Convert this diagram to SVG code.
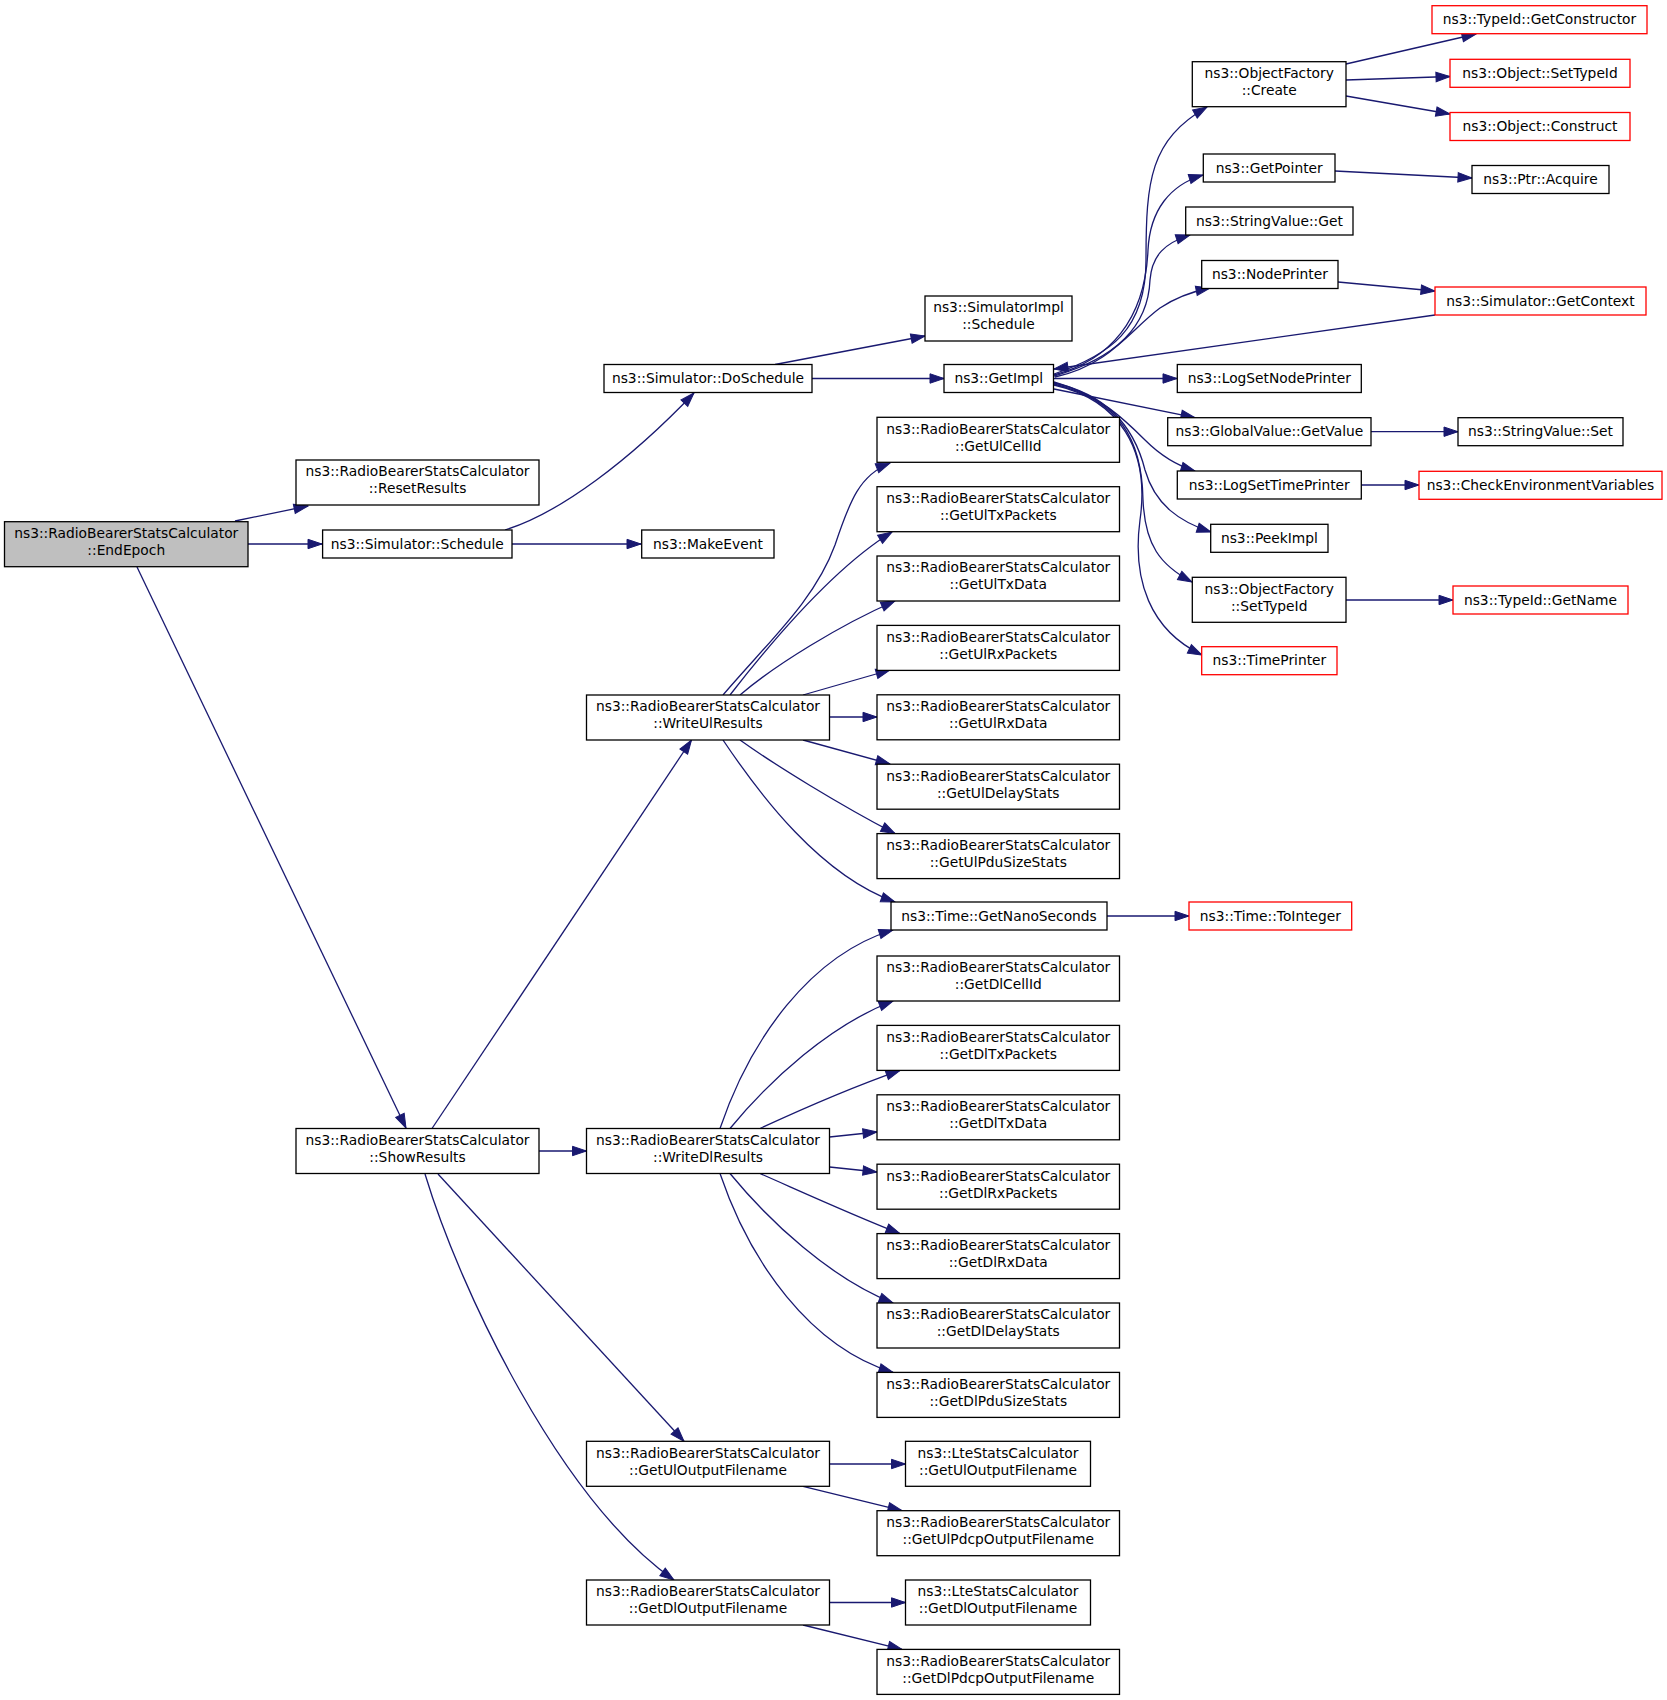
<svg xmlns="http://www.w3.org/2000/svg" width="1667" height="1700" viewBox="0 0 1667 1700">
<style>
.n rect{fill:#fff;stroke:#000;stroke-width:1.3}
.r rect{stroke:#ff0000}
.g rect{fill:#bfbfbf}
text{font-family:"DejaVu Sans","Liberation Sans",sans-serif;font-size:13.8px;text-anchor:middle;fill:#000}
.e path{fill:none;stroke:#191970;stroke-width:1.3;marker-end:url(#a)}
</style>
<defs>
<marker id="a" markerWidth="16" markerHeight="12" refX="14" refY="5" orient="auto" markerUnits="userSpaceOnUse" overflow="visible">
<path d="M0,0.3 L14,5 L0,9.7 z" fill="#191970" stroke="#191970" stroke-width="1"/>
</marker>
</defs>
<rect x="0" y="0" width="1667" height="1700" fill="#fff"/>
<g id="edges" class="e">
<path d="M235,521 L308,506"/>
<path d="M248,544 L322,544"/>
<path d="M137,567 L406,1128"/>
<path d="M512,544 L641,544"/>
<path d="M505,530 C560,513 630,460 694,393"/>
<path d="M812,378.5 L944,378.5"/>
<path d="M775,364.5 L925,336"/>
<path d="M1054,374 C1110,355 1146,330 1146,260 C1146,180 1150,140 1207,107"/>
<path d="M1054,375 C1110,360 1145,320 1148,250 C1150,210 1170,185 1203,175"/>
<path d="M1054,376 C1110,360 1148,330 1150,280 C1152,255 1165,243 1190,235"/>
<path d="M1055,377 C1110,365 1130,330 1160,308 C1175,298 1190,292 1210,288"/>
<path d="M1053.5,378.5 L1177,378.5"/>
<path d="M1435,315 L1054,369"/>
<path d="M1054,389 L1195,417.7"/>
<path d="M1054,382 C1100,395 1125,420 1145,440 C1160,455 1175,465 1195,471"/>
<path d="M1054,383 C1110,395 1135,430 1145,470 C1155,505 1180,522 1211,532"/>
<path d="M1054,384 C1120,400 1142,440 1143,500 C1145,545 1160,565 1192,582"/>
<path d="M1054,385 C1120,400 1150,450 1140,520 C1132,580 1150,630 1202,655"/>
<path d="M1346,64 L1476,34"/>
<path d="M1346,80 L1450,76.5"/>
<path d="M1346,96 L1450,114"/>
<path d="M1335,171 L1472,178"/>
<path d="M1338,282 L1435,291"/>
<path d="M1371,431.7 L1458,431.7"/>
<path d="M1361,485 L1419,485"/>
<path d="M1346,600 L1453,600"/>
<path d="M1107,916 L1189,916"/>
<path d="M723,695 C770,640 815,600 835,545 C850,500 860,475 890,463"/>
<path d="M730,695 C765,650 830,570 892,532"/>
<path d="M740,695 C775,665 840,625 895,601"/>
<path d="M803,695 L890,670"/>
<path d="M829.5,717 L877,717"/>
<path d="M803,740 L890,764"/>
<path d="M740,740 C775,765 840,805 895,833.6"/>
<path d="M723,740 C760,795 820,875 895,902"/>
<path d="M720,1128.5 C750,1040 810,955 893,930"/>
<path d="M730,1128.5 C770,1080 830,1025 893,1001"/>
<path d="M760,1128.5 C800,1110 850,1088 900,1070.4"/>
<path d="M829.5,1137 L877,1132"/>
<path d="M829.5,1167 L877,1172"/>
<path d="M760,1173.5 C800,1191 850,1214 900,1233.6"/>
<path d="M730,1173.5 C770,1222 830,1278 893,1303"/>
<path d="M720,1173.5 C750,1262 810,1347 893,1372.4"/>
<path d="M432,1128.5 L691.5,740"/>
<path d="M539,1151 L586.5,1151"/>
<path d="M438,1174 L684,1441.3"/>
<path d="M425,1174 C460,1290 560,1500 674,1580"/>
<path d="M829.5,1464 L905.5,1464"/>
<path d="M803,1486.3 L902,1510.7"/>
<path d="M829.5,1602.5 L905.5,1602.5"/>
<path d="M803,1625 L902,1649.4"/>
</g>
<g id="n_endepoch" class="n g"><rect x="4.5" y="521.7" width="243.5" height="45"/><text x="126.25" y="538">ns3::RadioBearerStatsCalculator</text><text x="126.25" y="555">::EndEpoch</text></g>
<g id="n_resetresults" class="n"><rect x="296" y="460" width="243" height="45"/><text x="417.5" y="476.3">ns3::RadioBearerStatsCalculator</text><text x="417.5" y="493.3">::ResetResults</text></g>
<g id="n_sim_schedule" class="n"><rect x="322.6" y="530" width="189.4" height="28"/><text x="417.3" y="548.7">ns3::Simulator::Schedule</text></g>
<g id="n_showresults" class="n"><rect x="296" y="1128.5" width="243" height="45"/><text x="417.5" y="1144.8">ns3::RadioBearerStatsCalculator</text><text x="417.5" y="1161.8">::ShowResults</text></g>
<g id="n_doschedule" class="n"><rect x="604" y="364.5" width="208" height="28"/><text x="708" y="383.2">ns3::Simulator::DoSchedule</text></g>
<g id="n_makeevent" class="n"><rect x="641.7" y="530" width="132.3" height="28"/><text x="707.9" y="548.7">ns3::MakeEvent</text></g>
<g id="n_writeul" class="n"><rect x="586.5" y="695" width="243" height="45"/><text x="708" y="711.3">ns3::RadioBearerStatsCalculator</text><text x="708" y="728.3">::WriteUlResults</text></g>
<g id="n_writedl" class="n"><rect x="586.5" y="1128.5" width="243" height="45"/><text x="708" y="1144.8">ns3::RadioBearerStatsCalculator</text><text x="708" y="1161.8">::WriteDlResults</text></g>
<g id="n_getuloutput" class="n"><rect x="586.5" y="1441.3" width="243" height="45"/><text x="708" y="1457.6">ns3::RadioBearerStatsCalculator</text><text x="708" y="1474.6">::GetUlOutputFilename</text></g>
<g id="n_getdloutput" class="n"><rect x="586.5" y="1580" width="243" height="45"/><text x="708" y="1596.3">ns3::RadioBearerStatsCalculator</text><text x="708" y="1613.3">::GetDlOutputFilename</text></g>
<g id="n_simimpl_schedule" class="n"><rect x="925" y="296" width="147" height="45"/><text x="998.5" y="312.3">ns3::SimulatorImpl</text><text x="998.5" y="329.3">::Schedule</text></g>
<g id="n_getimpl" class="n"><rect x="944" y="364.5" width="109.5" height="28"/><text x="998.75" y="383.2">ns3::GetImpl</text></g>
<g id="n_getulcellid" class="n"><rect x="877" y="417.3" width="242.5" height="45"/><text x="998.25" y="433.6">ns3::RadioBearerStatsCalculator</text><text x="998.25" y="450.6">::GetUlCellId</text></g>
<g id="n_getultxpackets" class="n"><rect x="877" y="486.7" width="242.5" height="45"/><text x="998.25" y="503">ns3::RadioBearerStatsCalculator</text><text x="998.25" y="520">::GetUlTxPackets</text></g>
<g id="n_getultxdata" class="n"><rect x="877" y="556" width="242.5" height="45"/><text x="998.25" y="572.3">ns3::RadioBearerStatsCalculator</text><text x="998.25" y="589.3">::GetUlTxData</text></g>
<g id="n_getulrxpackets" class="n"><rect x="877" y="625.4" width="242.5" height="45"/><text x="998.25" y="641.7">ns3::RadioBearerStatsCalculator</text><text x="998.25" y="658.7">::GetUlRxPackets</text></g>
<g id="n_getulrxdata" class="n"><rect x="877" y="694.8" width="242.5" height="45"/><text x="998.25" y="711.1">ns3::RadioBearerStatsCalculator</text><text x="998.25" y="728.1">::GetUlRxData</text></g>
<g id="n_getuldelay" class="n"><rect x="877" y="764.2" width="242.5" height="45"/><text x="998.25" y="780.5">ns3::RadioBearerStatsCalculator</text><text x="998.25" y="797.5">::GetUlDelayStats</text></g>
<g id="n_getulpdu" class="n"><rect x="877" y="833.6" width="242.5" height="45"/><text x="998.25" y="849.9">ns3::RadioBearerStatsCalculator</text><text x="998.25" y="866.9">::GetUlPduSizeStats</text></g>
<g id="n_nanoseconds" class="n"><rect x="891" y="902" width="216" height="28"/><text x="999" y="920.7">ns3::Time::GetNanoSeconds</text></g>
<g id="n_getdlcellid" class="n"><rect x="877" y="956" width="242.5" height="45"/><text x="998.25" y="972.3">ns3::RadioBearerStatsCalculator</text><text x="998.25" y="989.3">::GetDlCellId</text></g>
<g id="n_getdltxpackets" class="n"><rect x="877" y="1025.4" width="242.5" height="45"/><text x="998.25" y="1041.7">ns3::RadioBearerStatsCalculator</text><text x="998.25" y="1058.7">::GetDlTxPackets</text></g>
<g id="n_getdltxdata" class="n"><rect x="877" y="1094.8" width="242.5" height="45"/><text x="998.25" y="1111.1">ns3::RadioBearerStatsCalculator</text><text x="998.25" y="1128.1">::GetDlTxData</text></g>
<g id="n_getdlrxpackets" class="n"><rect x="877" y="1164.2" width="242.5" height="45"/><text x="998.25" y="1180.5">ns3::RadioBearerStatsCalculator</text><text x="998.25" y="1197.5">::GetDlRxPackets</text></g>
<g id="n_getdlrxdata" class="n"><rect x="877" y="1233.6" width="242.5" height="45"/><text x="998.25" y="1249.9">ns3::RadioBearerStatsCalculator</text><text x="998.25" y="1266.9">::GetDlRxData</text></g>
<g id="n_getdldelay" class="n"><rect x="877" y="1303" width="242.5" height="45"/><text x="998.25" y="1319.3">ns3::RadioBearerStatsCalculator</text><text x="998.25" y="1336.3">::GetDlDelayStats</text></g>
<g id="n_getdlpdu" class="n"><rect x="877" y="1372.4" width="242.5" height="45"/><text x="998.25" y="1388.7">ns3::RadioBearerStatsCalculator</text><text x="998.25" y="1405.7">::GetDlPduSizeStats</text></g>
<g id="n_lte_ul" class="n"><rect x="905.5" y="1441.3" width="185" height="45"/><text x="998" y="1457.6">ns3::LteStatsCalculator</text><text x="998" y="1474.6">::GetUlOutputFilename</text></g>
<g id="n_ulpdcp" class="n"><rect x="877" y="1510.7" width="242.5" height="45"/><text x="998.25" y="1527">ns3::RadioBearerStatsCalculator</text><text x="998.25" y="1544">::GetUlPdcpOutputFilename</text></g>
<g id="n_lte_dl" class="n"><rect x="905.5" y="1580" width="185" height="45"/><text x="998" y="1596.3">ns3::LteStatsCalculator</text><text x="998" y="1613.3">::GetDlOutputFilename</text></g>
<g id="n_dlpdcp" class="n"><rect x="877" y="1649.4" width="242.5" height="45"/><text x="998.25" y="1665.7">ns3::RadioBearerStatsCalculator</text><text x="998.25" y="1682.7">::GetDlPdcpOutputFilename</text></g>
<g id="n_of_create" class="n"><rect x="1192.3" y="61.7" width="153.7" height="45"/><text x="1269.2" y="78">ns3::ObjectFactory</text><text x="1269.2" y="95">::Create</text></g>
<g id="n_getpointer" class="n"><rect x="1203.3" y="154" width="131.7" height="28"/><text x="1269.2" y="172.7">ns3::GetPointer</text></g>
<g id="n_sv_get" class="n"><rect x="1185.7" y="207" width="167.3" height="28"/><text x="1269.4" y="225.7">ns3::StringValue::Get</text></g>
<g id="n_nodeprinter" class="n"><rect x="1201.7" y="260.5" width="136.3" height="28"/><text x="1269.9" y="279.2">ns3::NodePrinter</text></g>
<g id="n_logsetnodeprinter" class="n"><rect x="1177.3" y="364.5" width="184" height="28"/><text x="1269.3" y="383.2">ns3::LogSetNodePrinter</text></g>
<g id="n_gv_getvalue" class="n"><rect x="1167.7" y="417.7" width="203.3" height="28"/><text x="1269.4" y="436.4">ns3::GlobalValue::GetValue</text></g>
<g id="n_logsettimeprinter" class="n"><rect x="1177.3" y="471" width="184" height="28"/><text x="1269.3" y="489.7">ns3::LogSetTimePrinter</text></g>
<g id="n_peekimpl" class="n"><rect x="1210.7" y="524.3" width="117.3" height="28"/><text x="1269.4" y="543">ns3::PeekImpl</text></g>
<g id="n_of_settypeid" class="n"><rect x="1192.3" y="577.3" width="153.7" height="45"/><text x="1269.2" y="593.6">ns3::ObjectFactory</text><text x="1269.2" y="610.6">::SetTypeId</text></g>
<g id="n_timeprinter" class="n r"><rect x="1201.7" y="646.7" width="135.3" height="28"/><text x="1269.4" y="665.4">ns3::TimePrinter</text></g>
<g id="n_tointeger" class="n r"><rect x="1189" y="902" width="162.7" height="28"/><text x="1270.4" y="920.7">ns3::Time::ToInteger</text></g>
<g id="n_getconstructor" class="n r"><rect x="1432" y="5.7" width="215" height="28"/><text x="1539.5" y="24.4">ns3::TypeId::GetConstructor</text></g>
<g id="n_obj_settypeid" class="n r"><rect x="1450" y="59.3" width="180" height="28"/><text x="1540" y="78">ns3::Object::SetTypeId</text></g>
<g id="n_obj_construct" class="n r"><rect x="1450" y="112.5" width="180" height="28"/><text x="1540" y="131.2">ns3::Object::Construct</text></g>
<g id="n_ptr_acquire" class="n"><rect x="1472" y="165.5" width="137" height="28"/><text x="1540.5" y="184.2">ns3::Ptr::Acquire</text></g>
<g id="n_getcontext" class="n r"><rect x="1435" y="287" width="211" height="28"/><text x="1540.5" y="305.7">ns3::Simulator::GetContext</text></g>
<g id="n_sv_set" class="n"><rect x="1458" y="417.7" width="165" height="28"/><text x="1540.5" y="436.4">ns3::StringValue::Set</text></g>
<g id="n_checkenv" class="n r"><rect x="1419" y="471.3" width="243" height="28"/><text x="1540.5" y="490">ns3::CheckEnvironmentVariables</text></g>
<g id="n_getname" class="n r"><rect x="1453" y="586" width="175" height="28"/><text x="1540.5" y="604.7">ns3::TypeId::GetName</text></g>
</svg>
